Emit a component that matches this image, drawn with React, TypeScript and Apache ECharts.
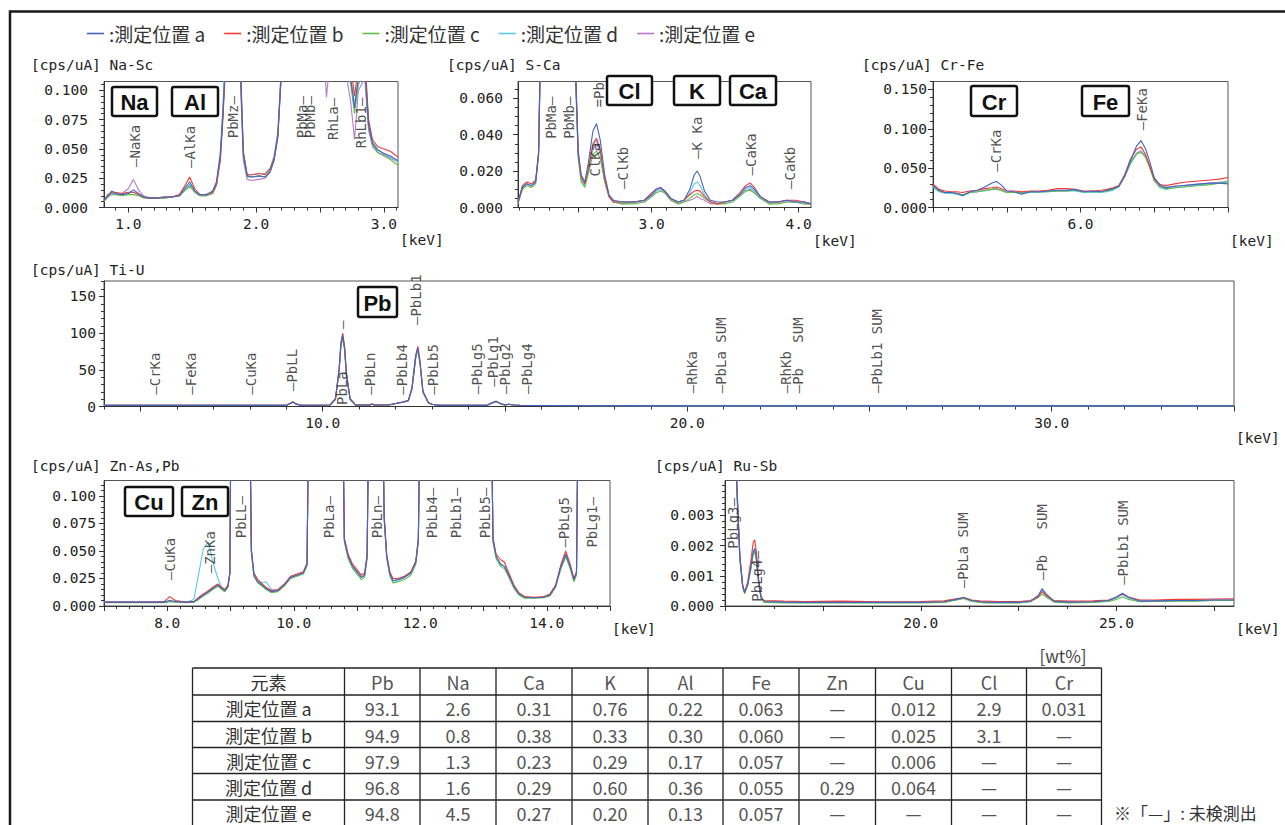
import { useEffect, useRef } from 'react';
import * as echarts from 'echarts';

const MONO = '"DejaVu Sans Mono", "Liberation Mono", monospace';
const SANS = '"Noto Sans CJK JP", "Noto Sans", sans-serif';
const BOLD = '"Liberation Sans", Arial, sans-serif';

const seriesNames = ['測定位置 a', '測定位置 b', '測定位置 c', '測定位置 d', '測定位置 e'];
const seriesColors = ['#4763c4', '#ee3b36', '#63bf45', '#5ccbe0', '#b77cc9'];

// ===== Na-Sc =====
const naScKeV = [0.81,0.84,0.87,0.90,0.95,1.00,1.04,1.08,1.12,1.17,1.22,1.28,1.34,1.40,1.44,1.48,1.52,1.56,1.61,1.66,1.69,1.72,1.74,1.77,1.82,1.86,1.88,1.90,1.93,1.97,2.02,2.07,2.11,2.14,2.17,2.20,2.30,2.45,2.55,2.60,2.68,2.74,2.77,2.80,2.85,2.88,2.91,2.95,3.00,3.05,3.11];
const naScA = [0.006,0.010,0.014,0.012,0.011,0.012,0.015,0.012,0.009,0.008,0.008,0.009,0.009,0.010,0.016,0.022,0.014,0.011,0.011,0.014,0.022,0.045,0.080,0.150,0.300,0.200,0.110,0.045,0.027,0.026,0.027,0.026,0.031,0.040,0.060,0.120,0.300,0.300,0.200,0.160,0.140,0.110,0.085,0.110,0.120,0.070,0.055,0.049,0.046,0.044,0.040];
const naScB = [0.006,0.011,0.013,0.013,0.012,0.013,0.013,0.011,0.009,0.008,0.008,0.009,0.009,0.011,0.018,0.026,0.016,0.011,0.011,0.013,0.020,0.040,0.075,0.140,0.300,0.200,0.115,0.048,0.028,0.028,0.029,0.028,0.033,0.042,0.062,0.125,0.300,0.300,0.210,0.170,0.150,0.120,0.095,0.120,0.130,0.075,0.058,0.052,0.050,0.048,0.043];
const naScC = [0.005,0.009,0.012,0.011,0.010,0.011,0.011,0.010,0.008,0.008,0.008,0.008,0.009,0.010,0.014,0.018,0.013,0.010,0.010,0.012,0.019,0.042,0.078,0.145,0.300,0.200,0.105,0.044,0.026,0.026,0.027,0.026,0.030,0.040,0.060,0.120,0.300,0.300,0.200,0.160,0.140,0.105,0.080,0.105,0.115,0.068,0.054,0.047,0.044,0.041,0.036];
const naScD = [0.006,0.010,0.012,0.012,0.011,0.012,0.013,0.011,0.009,0.008,0.008,0.009,0.009,0.010,0.015,0.020,0.014,0.011,0.011,0.013,0.021,0.048,0.085,0.155,0.300,0.200,0.110,0.047,0.028,0.028,0.029,0.029,0.034,0.044,0.065,0.125,0.300,0.300,0.200,0.160,0.140,0.110,0.088,0.112,0.122,0.072,0.056,0.050,0.046,0.043,0.039];
const naScE = [0.006,0.009,0.011,0.011,0.012,0.016,0.024,0.015,0.010,0.008,0.008,0.008,0.009,0.010,0.015,0.019,0.013,0.010,0.010,0.012,0.019,0.044,0.080,0.150,0.300,0.200,0.100,0.040,0.024,0.023,0.024,0.025,0.030,0.042,0.062,0.120,0.300,0.300,0.094,0.150,0.130,0.090,0.058,0.100,0.110,0.066,0.052,0.047,0.045,0.042,0.039];
const naScPeakNames = ['—NaKa', '—AlKa', 'PbMz—', 'PbMa—', 'PbMb—', 'RhLa—', 'RhLb1—'];
const naScPeakKeV = [1.05, 1.48, 1.82, 2.356, 2.42, 2.60, 2.82];
const naScPeakY = [0.0346, 0.0337, 0.059, 0.059, 0.059, 0.0576, 0.0505];

// ===== S-Ca =====
const sCaKeV = [2.09,2.12,2.15,2.18,2.21,2.23,2.25,2.30,2.40,2.48,2.50,2.52,2.545,2.57,2.60,2.625,2.65,2.68,2.71,2.74,2.80,2.88,2.95,3.00,3.03,3.06,3.09,3.13,3.18,3.22,3.26,3.29,3.31,3.33,3.36,3.40,3.45,3.50,3.55,3.60,3.64,3.67,3.70,3.74,3.80,3.86,3.92,3.98,4.04,4.085];
const sCaA = [0.003,0.011,0.013,0.012,0.014,0.030,0.120,0.200,0.200,0.080,0.031,0.018,0.014,0.025,0.042,0.046,0.037,0.018,0.007,0.004,0.003,0.003,0.004,0.007,0.010,0.011,0.009,0.005,0.003,0.004,0.010,0.018,0.020,0.017,0.009,0.004,0.003,0.003,0.004,0.007,0.011,0.012,0.010,0.006,0.003,0.003,0.004,0.003,0.003,0.002];
const sCaB = [0.003,0.012,0.014,0.013,0.015,0.030,0.120,0.200,0.200,0.080,0.030,0.017,0.013,0.022,0.035,0.038,0.032,0.016,0.006,0.003,0.003,0.003,0.004,0.008,0.010,0.011,0.009,0.005,0.003,0.004,0.007,0.009,0.0095,0.009,0.006,0.003,0.002,0.003,0.004,0.008,0.012,0.0135,0.011,0.006,0.003,0.003,0.004,0.004,0.003,0.002];
const sCaC = [0.002,0.010,0.012,0.011,0.013,0.028,0.110,0.200,0.200,0.075,0.027,0.014,0.011,0.019,0.029,0.031,0.027,0.014,0.006,0.003,0.002,0.002,0.003,0.006,0.008,0.009,0.008,0.004,0.002,0.003,0.005,0.007,0.0075,0.007,0.005,0.003,0.002,0.002,0.003,0.006,0.009,0.0095,0.008,0.005,0.002,0.002,0.003,0.003,0.002,0.002];
const sCaD = [0.003,0.011,0.013,0.012,0.014,0.029,0.115,0.200,0.200,0.078,0.029,0.016,0.012,0.021,0.034,0.037,0.031,0.015,0.006,0.003,0.003,0.003,0.004,0.007,0.009,0.010,0.009,0.005,0.003,0.004,0.008,0.013,0.014,0.012,0.007,0.003,0.002,0.003,0.004,0.007,0.010,0.011,0.009,0.005,0.003,0.003,0.004,0.003,0.003,0.002];
const sCaE = [0.003,0.011,0.013,0.012,0.014,0.029,0.115,0.200,0.200,0.078,0.028,0.015,0.012,0.020,0.032,0.035,0.030,0.015,0.006,0.003,0.002,0.003,0.003,0.006,0.009,0.010,0.008,0.004,0.002,0.003,0.004,0.005,0.006,0.005,0.004,0.002,0.002,0.003,0.004,0.007,0.009,0.010,0.008,0.005,0.002,0.003,0.003,0.003,0.002,0.002];
const sCaPeakNames = ['PbMa—', 'PbMb—', 'ClKa', '=Pb', '—ClKb', '—K Ka', '—CaKa', '—CaKb'];
const sCaPeakKeV = [2.317, 2.44, 2.612, 2.64, 2.806, 3.31, 3.68, 3.94];
const sCaPeakY = [0.0377, 0.0377, 0.017, 0.055, 0.0102, 0.0267, 0.0176, 0.0102];

// ===== Cr-Fe =====
const crFeKeV = [5.00,5.04,5.08,5.12,5.16,5.20,5.25,5.30,5.35,5.40,5.43,5.46,5.50,5.55,5.60,5.66,5.72,5.78,5.84,5.90,5.96,6.02,6.08,6.14,6.18,6.22,6.26,6.30,6.34,6.38,6.41,6.44,6.47,6.50,6.54,6.58,6.64,6.70,6.76,6.82,6.88,6.94,7.00];
const crFeA = [0.028,0.022,0.019,0.019,0.018,0.015,0.020,0.022,0.026,0.031,0.033,0.029,0.021,0.020,0.017,0.020,0.020,0.021,0.022,0.022,0.023,0.020,0.021,0.020,0.022,0.024,0.027,0.040,0.060,0.078,0.085,0.075,0.058,0.038,0.028,0.025,0.027,0.028,0.029,0.030,0.031,0.031,0.030];
const crFeB = [0.030,0.023,0.021,0.020,0.020,0.019,0.021,0.022,0.024,0.025,0.026,0.024,0.021,0.021,0.020,0.021,0.021,0.022,0.024,0.024,0.023,0.021,0.021,0.022,0.023,0.025,0.028,0.042,0.062,0.074,0.077,0.068,0.052,0.036,0.029,0.028,0.030,0.032,0.033,0.034,0.035,0.036,0.038];
const crFeC = [0.027,0.021,0.019,0.019,0.018,0.016,0.019,0.020,0.022,0.023,0.024,0.022,0.019,0.019,0.019,0.020,0.020,0.020,0.021,0.021,0.022,0.020,0.020,0.020,0.021,0.023,0.027,0.040,0.057,0.068,0.070,0.064,0.050,0.034,0.026,0.024,0.025,0.026,0.027,0.028,0.029,0.031,0.033];
const crFeD = [0.026,0.020,0.018,0.018,0.017,0.015,0.019,0.020,0.021,0.023,0.024,0.022,0.019,0.019,0.018,0.019,0.019,0.020,0.021,0.021,0.021,0.019,0.019,0.019,0.020,0.022,0.026,0.039,0.056,0.068,0.071,0.065,0.051,0.034,0.025,0.023,0.025,0.026,0.028,0.029,0.030,0.031,0.032];
const crFeE = [0.027,0.021,0.019,0.018,0.018,0.016,0.019,0.020,0.022,0.023,0.023,0.022,0.019,0.019,0.019,0.020,0.020,0.021,0.021,0.021,0.022,0.020,0.020,0.020,0.021,0.023,0.027,0.040,0.058,0.069,0.072,0.066,0.052,0.035,0.027,0.026,0.027,0.028,0.029,0.030,0.031,0.032,0.033];
const crFePeakNames = ['—CrKa', '—FeKa'];
const crFePeakKeV = [5.43, 6.42];
const crFePeakY = [0.0453, 0.098];

// ===== Ti-U =====
const tiUKeV = [4,6,8,9.0,9.1,9.18,9.27,9.4,10.2,10.35,10.45,10.5,10.55,10.6,10.65,10.75,10.9,11.3,11.35,11.42,11.8,12.0,12.2,12.35,12.45,12.55,12.61,12.67,12.75,12.9,13.0,13.2,14.5,14.65,14.76,14.87,15.0,15.1,15.25,15.4,20,25,30,35];
const tiUA = [1.5,1.5,1.5,1.5,4,6,3.5,1.5,2,10,50,85,97,80,45,10,2,2,3.5,2,2,4,6,8,25,68,80,60,20,5,3,1.5,1.5,5,7,4,2,3,2,1.5,1.2,1.2,1.2,1.2];
const tiUB = [1.6,1.6,1.6,1.6,4.2,6.5,3.6,1.6,2.1,11,52,88,100,82,46,11,2.1,2.1,3.6,2.1,2.1,4.2,6.2,8.5,26,70,82,62,21,5.2,3.1,1.6,1.6,5.2,7.3,4.1,2.1,3.1,2.1,1.6,1.3,1.3,1.3,1.3];
const tiUC = [1.5,1.5,1.5,1.5,3.9,5.8,3.4,1.5,1.9,9.5,48,82,93,77,43,9.5,1.9,1.9,3.4,1.9,1.9,3.9,5.8,7.8,24,65,77,58,19,4.8,2.9,1.5,1.5,4.8,6.8,3.9,1.9,2.9,1.9,1.5,1.2,1.2,1.2,1.2];
const tiUD = [1.5,1.5,1.5,1.5,4,6,3.5,1.5,2,10,49,84,96,79,44,10,2,2,3.5,2,2,4,6,8,25,67,79,59,20,5,3,1.5,1.5,5,7,4,2,3,2,1.5,1.2,1.2,1.2,1.2];
const tiUE = [1.5,1.5,1.5,1.5,4,6,3.5,1.5,2,10,49,83,95,78,44,10,2,2,3.5,2,2,4,6,8,24,66,78,58,19,5,3,1.5,1.5,5,7,4,2,3,2,1.5,1.2,1.2,1.2,1.2];
const tiUPeakNames = ['—CrKa','—FeKa','—CuKa','—PbLL','PbLa     —','—PbLn','—PbLb4','—PbLb1','—PbLb5','—PbLg5','—PbLg1','—PbLg2','—PbLg4','—RhKa','—PbLa SUM','—RhKb','—Pb   SUM','—PbLb1 SUM'];
const tiUPeakKeV = [5.40,6.38,8.03,9.15,10.53,11.30,12.17,12.56,13.04,14.23,14.67,15.0,15.6,20.12,20.94,22.7,23.03,25.2];
const tiUPeakY = [16,16,16,21,2,16,16,111,16,17,27,17,17,18,18,18,18,18];

// ===== Zn-As,Pb =====
const znKeV = [7.0,7.4,7.8,7.95,8.04,8.13,8.3,8.42,8.5,8.57,8.65,8.72,8.8,8.86,8.91,8.96,8.99,9.01,9.30,9.33,9.37,9.43,9.50,9.56,9.65,9.75,9.85,9.95,10.05,10.15,10.21,10.24,10.77,10.80,10.86,10.93,11.00,11.07,11.12,11.16,11.19,11.40,11.43,11.47,11.52,11.57,11.65,11.75,11.85,11.93,11.97,12.00,13.12,13.15,13.20,13.27,13.33,13.40,13.48,13.56,13.65,13.80,13.95,14.05,14.14,14.22,14.30,14.37,14.43,14.47,14.50,15.00];
const znA = [0.0035,0.0035,0.0035,0.0035,0.005,0.004,0.0035,0.004,0.007,0.010,0.013,0.016,0.019,0.016,0.014,0.018,0.030,0.200,0.200,0.050,0.028,0.022,0.019,0.016,0.013,0.014,0.019,0.026,0.028,0.030,0.038,0.200,0.200,0.060,0.045,0.036,0.031,0.026,0.028,0.045,0.200,0.200,0.080,0.045,0.029,0.023,0.024,0.026,0.030,0.040,0.060,0.200,0.200,0.060,0.045,0.038,0.036,0.028,0.018,0.011,0.008,0.0075,0.008,0.010,0.018,0.035,0.047,0.036,0.024,0.030,0.200,0.200];
const znB = [0.0035,0.0035,0.0035,0.004,0.0085,0.005,0.0035,0.004,0.008,0.011,0.014,0.017,0.020,0.017,0.015,0.019,0.030,0.200,0.200,0.052,0.030,0.024,0.020,0.017,0.014,0.015,0.020,0.027,0.029,0.031,0.039,0.200,0.200,0.062,0.047,0.038,0.033,0.028,0.030,0.047,0.200,0.200,0.082,0.047,0.031,0.025,0.025,0.027,0.031,0.041,0.062,0.200,0.200,0.062,0.047,0.042,0.040,0.030,0.019,0.012,0.0085,0.008,0.0085,0.011,0.019,0.037,0.050,0.038,0.025,0.031,0.200,0.200];
const znC = [0.003,0.003,0.003,0.003,0.004,0.0035,0.003,0.0035,0.006,0.009,0.012,0.015,0.018,0.015,0.013,0.017,0.029,0.200,0.200,0.048,0.027,0.021,0.018,0.015,0.012,0.013,0.018,0.025,0.027,0.029,0.036,0.200,0.200,0.058,0.043,0.034,0.029,0.024,0.026,0.043,0.200,0.200,0.078,0.043,0.028,0.021,0.022,0.024,0.028,0.038,0.058,0.200,0.200,0.058,0.043,0.036,0.034,0.026,0.016,0.010,0.007,0.007,0.0075,0.009,0.017,0.033,0.045,0.034,0.022,0.028,0.200,0.200];
const znD = [0.0035,0.0035,0.0035,0.0035,0.0045,0.004,0.0035,0.006,0.030,0.052,0.058,0.040,0.025,0.017,0.014,0.018,0.030,0.200,0.200,0.050,0.030,0.024,0.021,0.022,0.015,0.014,0.019,0.026,0.028,0.030,0.038,0.200,0.200,0.060,0.045,0.036,0.031,0.026,0.028,0.045,0.200,0.200,0.080,0.045,0.027,0.021,0.023,0.026,0.030,0.040,0.060,0.200,0.200,0.060,0.045,0.038,0.036,0.028,0.018,0.011,0.008,0.0075,0.008,0.010,0.018,0.035,0.046,0.035,0.024,0.030,0.200,0.200];
const znE = [0.0035,0.0035,0.0035,0.0035,0.0045,0.004,0.0035,0.004,0.007,0.010,0.013,0.016,0.018,0.016,0.014,0.018,0.030,0.200,0.200,0.050,0.028,0.022,0.019,0.016,0.013,0.014,0.019,0.026,0.028,0.030,0.038,0.200,0.200,0.060,0.045,0.036,0.031,0.026,0.028,0.045,0.200,0.200,0.080,0.045,0.029,0.023,0.024,0.026,0.030,0.040,0.060,0.200,0.200,0.060,0.045,0.038,0.036,0.028,0.018,0.011,0.008,0.0075,0.008,0.010,0.018,0.035,0.047,0.036,0.024,0.030,0.200,0.200];
const znPeakNames = ['—CuKa','—ZnKa','PbLL—','PbLa—','PbLn—','PbLb4—','PbLb1—','PbLb5—','—PbLg5','PbLg1—'];
const znPeakKeV = [8.04, 8.67, 9.17, 10.56, 11.32, 12.19, 12.57, 13.02, 14.28, 14.71];
const znPeakY = [0.0236, 0.0297, 0.0615, 0.0615, 0.0615, 0.0615, 0.0615, 0.0615, 0.053, 0.053];

// ===== Ru-Sb =====
const ruKeV = [15.0,15.2,15.3,15.38,15.45,15.5,15.58,15.66,15.72,15.76,15.8,15.86,15.92,16.0,16.5,17.0,18.0,19.0,20.0,20.6,20.9,21.1,21.3,21.6,22.0,22.5,22.8,23.0,23.1,23.2,23.4,23.8,24.4,24.8,25.0,25.15,25.3,25.6,26.0,26.5,27.0,27.5,28.0];
const ruA = [0.012,0.008,0.004,0.0016,0.0007,0.00045,0.0007,0.0013,0.0018,0.0019,0.0016,0.0008,0.0003,0.00015,0.00013,0.00012,0.00012,0.00012,0.00012,0.00014,0.00022,0.00028,0.00018,0.00013,0.00012,0.00012,0.00016,0.00035,0.00058,0.0004,0.00016,0.00013,0.00014,0.00018,0.0003,0.00042,0.0003,0.00016,0.00017,0.00018,0.00018,0.0002,0.0002];
const ruB = [0.012,0.008,0.0042,0.0017,0.0007,0.00045,0.0008,0.0015,0.0021,0.0022,0.0018,0.0009,0.0003,0.00018,0.00016,0.00015,0.00016,0.00014,0.00015,0.00017,0.00024,0.00028,0.0002,0.00016,0.00015,0.00015,0.00018,0.0003,0.00048,0.00035,0.00018,0.00016,0.00017,0.0002,0.0003,0.0004,0.0003,0.0002,0.0002,0.00022,0.00022,0.00023,0.00024];
const ruC = [0.012,0.008,0.0038,0.0015,0.0006,0.0004,0.0007,0.0012,0.0017,0.0018,0.0015,0.0007,0.00025,0.00012,0.0001,0.0001,0.0001,0.0001,0.0001,0.00012,0.0002,0.00025,0.00015,0.0001,0.0001,0.0001,0.00014,0.00028,0.0004,0.0003,0.00013,0.0001,0.00012,0.00015,0.00022,0.0003,0.00022,0.00014,0.00015,0.00016,0.00016,0.00018,0.00018];
const ruD = [0.012,0.008,0.004,0.0016,0.0007,0.00045,0.0007,0.0013,0.0018,0.0019,0.0016,0.0008,0.0003,0.00014,0.00012,0.00011,0.00011,0.00011,0.00012,0.00013,0.0002,0.00026,0.00017,0.00012,0.00011,0.00011,0.00015,0.00032,0.0005,0.00036,0.00015,0.00012,0.00013,0.00017,0.00027,0.00038,0.00027,0.00015,0.00016,0.00017,0.00017,0.00019,0.00019];
const ruE = [0.012,0.008,0.004,0.0016,0.0007,0.00045,0.0007,0.0013,0.0018,0.0019,0.0016,0.0008,0.0003,0.00014,0.00012,0.00012,0.00012,0.00012,0.00012,0.00013,0.0002,0.00026,0.00017,0.00012,0.00012,0.00012,0.00015,0.00033,0.00052,0.00037,0.00015,0.00013,0.00014,0.00017,0.00028,0.0004,0.00028,0.00016,0.00017,0.00018,0.00018,0.0002,0.0002];
const ruPeakNames = ['PbLg3—', 'PbLg4—', '—PbLa SUM', '—Pb   SUM', '—PbLb1 SUM'];
const ruPeakKeV = [15.2, 15.83, 21.09, 23.11, 25.16];
const ruPeakY = [0.0019, 0.00014, 0.00059, 0.00086, 0.0007];

// ===== Table =====
const tableHeader = ['元素', 'Pb', 'Na', 'Ca', 'K', 'Al', 'Fe', 'Zn', 'Cu', 'Cl', 'Cr'];
const tableRowNames = ['測定位置 a', '測定位置 b', '測定位置 c', '測定位置 d', '測定位置 e'];
const tableValues = [
  ['93.1', '2.6', '0.31', '0.76', '0.22', '0.063', '—', '0.012', '2.9', '0.031'],
  ['94.9', '0.8', '0.38', '0.33', '0.30', '0.060', '—', '0.025', '3.1', '—'],
  ['97.9', '1.3', '0.23', '0.29', '0.17', '0.057', '—', '0.006', '—', '—'],
  ['96.8', '1.6', '0.29', '0.60', '0.36', '0.055', '0.29', '0.064', '—', '—'],
  ['94.8', '4.5', '0.27', '0.20', '0.13', '0.057', '—', '—', '—', '—'],
];
const tableUnit = '[wt%]';
const tableNote = '※「—」: 未検測出';

// ===== Layout (positions / styles only) =====
const steps = (a: number, b: number, s: number) => {
  const n = Math.round((b - a) / s);
  const out: number[] = [];
  for (let i = 0; i <= n; i++) out.push(Math.round((a + i * s) * 1e6) / 1e6);
  return out;
};

const panels = [
  { title: '[cps/uA] Na-Sc', tx: 31, ty: 57, l: 104, t: 81.5, w: 294, h: 126, xr: [0.81, 3.11], xLab: [1, 2, 3], xMaj: steps(1, 3, 0.5), xMnr: steps(0.9, 3.1, 0.1), ymax: 0.1075, yLab: steps(0, 0.1, 0.025), yMnr: steps(0, 0.105, 0.005), yDig: 3, yMargin: 16, nameDy: 32.5, keV: naScKeV, vals: [naScA, naScB, naScC, naScD, naScE], pn: naScPeakNames, pk: naScPeakKeV, py: naScPeakY },
  { title: '[cps/uA] S-Ca', tx: 447, ty: 57, l: 518, t: 81.5, w: 293, h: 126, xr: [2.09, 4.085], xLab: [3, 4], xMaj: steps(2.5, 4, 0.5), xMnr: steps(2.1, 4.0, 0.1), ymax: 0.0692, yLab: steps(0, 0.06, 0.02), yMnr: steps(0, 0.065, 0.005), yDig: 3, yMargin: 15, nameDy: 33.5, keV: sCaKeV, vals: [sCaA, sCaB, sCaC, sCaD, sCaE], pn: sCaPeakNames, pk: sCaPeakKeV, py: sCaPeakY },
  { title: '[cps/uA] Cr-Fe', tx: 862, ty: 57, l: 933, t: 81.5, w: 295, h: 126, xr: [5, 7], xLab: [6], xMaj: steps(5, 7, 0.5), xMnr: steps(5, 7, 0.1), ymax: 0.16, yLab: steps(0, 0.15, 0.05), yMnr: steps(0, 0.16, 0.01), yDig: 3, yMargin: 6, nameDy: 33.5, keV: crFeKeV, vals: [crFeA, crFeB, crFeC, crFeD, crFeE], pn: crFePeakNames, pk: crFePeakKeV, py: crFePeakY },
  { title: '[cps/uA] Ti-U', tx: 31, ty: 262, l: 104, t: 281, w: 1130, h: 125.5, xr: [4, 35], xLab: [10, 20, 30], xMaj: steps(5, 35, 5), xMnr: steps(4, 35, 1), ymax: 171, yLab: steps(0, 150, 50), yMnr: steps(0, 170, 10), yDig: 0, yMargin: 8, nameDy: 31.5, keV: tiUKeV, vals: [tiUA, tiUB, tiUC, tiUD, tiUE], pn: tiUPeakNames, pk: tiUPeakKeV, py: tiUPeakY },
  { title: '[cps/uA] Zn-As,Pb', tx: 31, ty: 458, l: 104, t: 480.5, w: 506, h: 125.5, xr: [7, 15], xLab: [8, 10, 12, 14], xMaj: steps(7, 15, 1), xMnr: steps(7, 15, 0.2), ymax: 0.114, yLab: steps(0, 0.1, 0.025), yMnr: steps(0, 0.11, 0.005), yDig: 3, yMargin: 8, nameDy: 23, keV: znKeV, vals: [znA, znB, znC, znD, znE], pn: znPeakNames, pk: znPeakKeV, py: znPeakY },
  { title: '[cps/uA] Ru-Sb', tx: 655, ty: 458, l: 725, t: 480.5, w: 509, h: 125.5, xr: [15, 28], xLab: [20, 25], xMaj: steps(15, 27.5, 2.5), xMnr: steps(15, 28, 1.25), ymax: 0.00416, yLab: steps(0, 0.003, 0.001), yMnr: steps(0, 0.004, 0.0002), yDig: 3, yMargin: 11, nameDy: 23, keV: ruKeV, vals: [ruA, ruB, ruC, ruD, ruE], pn: ruPeakNames, pk: ruPeakKeV, py: ruPeakY },
];

const boxLayout: [string, number, number, number, number][] = [
  ['Na', 112, 87, 45, 29], ['Al', 172, 87, 46, 29],
  ['Cl', 607, 76, 45, 29], ['K', 674, 76, 46, 29], ['Ca', 730, 76, 46, 29],
  ['Cr', 971, 86, 46, 30], ['Fe', 1082, 86, 47, 30],
  ['Pb', 358, 287, 39, 30],
  ['Cu', 125, 487, 48, 29], ['Zn', 182, 487, 46, 29],
];

const tableColX = [192.5, 344.5, 420, 496, 572, 648, 723, 799, 875.5, 951.5, 1026.5, 1101.5];
const tableRowY = [668, 695, 721.5, 747.5, 773.5, 800, 826.5];

const axisText = { fontFamily: MONO, fontSize: 14.5, color: '#222' };

function buildOption() {
  const grid: any[] = [];
  const xAxis: any[] = [];
  const yAxis: any[] = [];
  const series: any[] = [];
  const title: any[] = [];
  const order = [4, 3, 2, 1, 0];

  panels.forEach((p, pi) => {
    grid.push({ left: p.l, top: p.t, width: p.w, height: p.h, show: true, borderColor: '#555', borderWidth: 1, containLabel: false });
    title.push({ text: p.title, left: p.tx, top: p.ty, padding: 0, textStyle: { ...axisText, fontWeight: 'normal' } });
    xAxis.push({
      type: 'value', gridIndex: pi, min: p.xr[0], max: p.xr[1], position: 'bottom',
      axisLine: { show: true, onZero: false, lineStyle: { color: '#333', width: 1 } },
      axisTick: { show: true, customValues: p.xMaj, length: 5, lineStyle: { color: '#333' } },
      axisLabel: { show: true, customValues: p.xLab, formatter: (v: number) => v.toFixed(1), margin: 9, ...axisText },
      splitLine: { show: false },
      name: '[keV]', nameLocation: 'end', nameGap: 2,
      nameTextStyle: { ...axisText, align: 'left', verticalAlign: 'top', padding: [p.nameDy - 8, 0, 0, 0] },
    });
    xAxis.push({
      type: 'value', gridIndex: pi, min: p.xr[0], max: p.xr[1], position: 'bottom',
      axisLine: { show: false, onZero: false },
      axisTick: { show: true, customValues: p.xMnr, length: 3, lineStyle: { color: '#333' } },
      axisLabel: { show: false }, splitLine: { show: false },
    });
    yAxis.push({
      type: 'value', gridIndex: pi, min: 0, max: p.ymax, position: 'left',
      axisLine: { show: true, onZero: false, lineStyle: { color: '#333', width: 1 } },
      axisTick: { show: true, customValues: p.yLab, length: 5, lineStyle: { color: '#333' } },
      axisLabel: { show: true, customValues: p.yLab, formatter: (v: number) => v.toFixed(p.yDig), margin: p.yMargin, ...axisText },
      splitLine: { show: false },
    });
    yAxis.push({
      type: 'value', gridIndex: pi, min: 0, max: p.ymax, position: 'left',
      axisLine: { show: false, onZero: false },
      axisTick: { show: true, customValues: p.yMnr, length: 3, lineStyle: { color: '#333' } },
      axisLabel: { show: false }, splitLine: { show: false },
    });
    order.forEach((si) => {
      series.push({
        type: 'line', name: seriesNames[si], xAxisIndex: pi * 2, yAxisIndex: pi * 2,
        data: p.keV.map((x, j) => [x, p.vals[si][j]]),
        symbol: 'none', showSymbol: false, clip: true, silent: true, z: 2,
        lineStyle: { width: 1.1, color: seriesColors[si] }, itemStyle: { color: seriesColors[si] },
      });
    });
    series.push({
      type: 'scatter', name: 'peaks' + pi, xAxisIndex: pi * 2, yAxisIndex: pi * 2,
      data: p.pk.map((x, j) => ({ name: p.pn[j], value: [x, p.py[j]] })),
      symbol: 'circle', symbolSize: 0.1, itemStyle: { color: 'rgba(0,0,0,0)' }, silent: true, z: 5, clip: false,
      label: { show: true, position: [0, 0], rotate: 90, align: 'left', verticalAlign: 'middle', formatter: '{b}', fontFamily: MONO, fontSize: 14, color: '#222' },
    });
  });

  const graphic: any[] = [];
  graphic.push({ type: 'rect', z: 200, silent: true, shape: { x: 10, y: 11.5, width: 1300, height: 840 }, style: { fill: 'none', stroke: '#1a1a1a', lineWidth: 2.5 } });
  boxLayout.forEach(([t, x, y, w, h]) => {
    graphic.push({
      type: 'group', x, y, z: 100, silent: true,
      children: [
        { type: 'rect', z: 100, shape: { x: 0, y: 0, width: w, height: h, r: 2 }, style: { fill: '#fff', stroke: '#111', lineWidth: 2.5 } },
        { type: 'text', z: 101, x: w / 2, y: h / 2 + 1, style: { text: t, fill: '#111', fontFamily: BOLD, fontWeight: 'bold', fontSize: 22, align: 'center', verticalAlign: 'middle', textAlign: 'center', textVerticalAlign: 'middle' } },
      ],
    });
  });
  const x0 = tableColX[0], x1 = tableColX[tableColX.length - 1];
  const y0 = tableRowY[0], y1 = tableRowY[tableRowY.length - 1];
  tableRowY.forEach((y) => graphic.push({ type: 'line', z: 50, silent: true, shape: { x1: x0, y1: y, x2: x1, y2: y }, style: { stroke: '#222', lineWidth: 1.3 } }));
  tableColX.forEach((x) => graphic.push({ type: 'line', z: 50, silent: true, shape: { x1: x, y1: y0, x2: x, y2: y1 }, style: { stroke: '#222', lineWidth: 1.3 } }));
  const cellText = (text: string, col: number, row: number, color: string) => {
    const cx = (tableColX[col] + tableColX[col + 1]) / 2;
    const cy = (tableRowY[row] + tableRowY[row + 1]) / 2;
    graphic.push({ type: 'text', z: 51, silent: true, x: cx, y: cy, style: { text, fill: color, fontFamily: SANS, fontSize: 18, align: 'center', verticalAlign: 'middle', textAlign: 'center', textVerticalAlign: 'middle' } });
  };
  tableHeader.forEach((h, c) => cellText(h, c, 0, c === 0 ? '#333' : '#555'));
  tableRowNames.forEach((r, ri) => {
    cellText(r, 0, ri + 1, '#333');
    tableValues[ri].forEach((v, ci) => cellText(v, ci + 1, ri + 1, '#555'));
  });
  graphic.push({ type: 'text', z: 51, silent: true, x: 1063, y: 655, style: { text: tableUnit, fill: '#444', fontFamily: SANS, fontSize: 17, align: 'center', verticalAlign: 'middle', textAlign: 'center', textVerticalAlign: 'middle' } });
  graphic.push({ type: 'text', z: 51, silent: true, x: 1114, y: 812, style: { text: tableNote, fill: '#333', fontFamily: SANS, fontSize: 17, align: 'left', verticalAlign: 'middle', textAlign: 'left', textVerticalAlign: 'middle' } });

  return {
    animation: false,
    backgroundColor: '#fff',
    title,
    legend: {
      data: seriesNames, left: 87, top: 24, padding: 0, itemGap: 19, itemWidth: 17, itemHeight: 1.6, icon: 'rect',
      selectedMode: false, formatter: (n: string) => ':' + n,
      textStyle: { fontFamily: SANS, fontSize: 19, color: '#333' },
    },
    grid, xAxis, yAxis, series, graphic,
  };
}

export default function App() {
  const ref = useRef<HTMLDivElement>(null);
  useEffect(() => {
    if (!ref.current) return;
    const chart = echarts.init(ref.current, null, { renderer: 'svg' });
    chart.setOption(buildOption() as any);
    return () => chart.dispose();
  }, []);
  return <div ref={ref} style={{ position: 'absolute', left: 0, top: 0, width: 1285, height: 825 }} />;
}
